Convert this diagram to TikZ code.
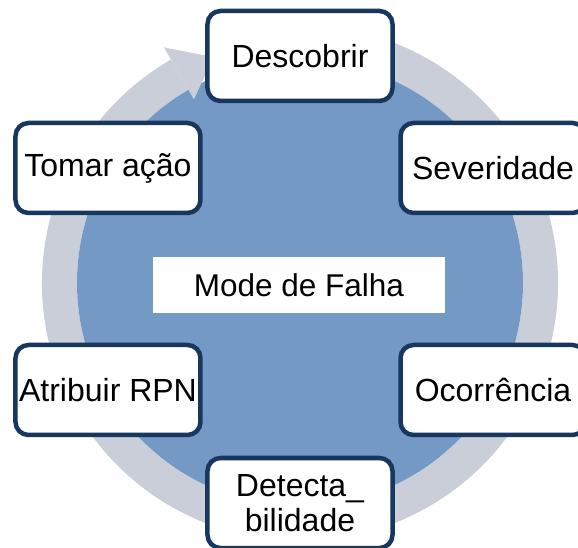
\documentclass[tikz,border=0pt]{standalone}
\usepackage{fontspec}
\setmainfont{Liberation Sans}
\usetikzlibrary{calc}

\definecolor{diskblue}{RGB}{116,153,197}
\definecolor{ringgrey}{RGB}{201,206,216}
\definecolor{tipblue}{RGB}{199,214,234}
\definecolor{boxborder}{RGB}{23,55,94}

\begin{document}
\begin{tikzpicture}[x=1pt,y=1pt,
	stage/.style={draw=boxborder, line width=4.5pt, fill=white, rounded corners=13pt,
		minimum width=185pt, minimum height=90pt, inner sep=0pt, align=center,
		font=\fontsize{32}{35}\selectfont},
	centrebox/.style={fill=white, minimum width=292pt, minimum height=56pt,
		font=\fontsize{31.5}{35}\selectfont}]

	\useasboundingbox (-300,-265) rectangle (278,283);

	% circular arrow behind the disk
	\fill[ringgrey] (120:258) arc[start angle=120, end angle=460, radius=258]
		-- (100:223) arc[start angle=460, end angle=120, radius=223] -- cycle;
	\fill[tipblue] (100:258) arc[start angle=100, end angle=111, radius=258]
		-- (111:223) arc[start angle=111, end angle=100, radius=223] -- cycle;
	\fill[diskblue] (0,0) circle[radius=223];
	\fill[ringgrey] (120:212) -- (120:272) -- (111:242) -- cycle;

	\node[centrebox] (modo) at (-1,-2) {Mode de Falha};

	\node[stage] (descobrir) at (0,227) {Descobrir};
	\node[stage] (severidade) at (193,115) {Severidade};
	\node[stage] (ocorrencia) at (193,-107) {Ocorrência};
	\node[stage] (detecta) at (0,-220) {Detecta\_\\bilidade};
	\node[stage] (atribuir) at (-192,-107) {Atribuir RPN};
	\node[stage] (tomar) at (-192,115) {Tomar ação};

\end{tikzpicture}
\end{document}
